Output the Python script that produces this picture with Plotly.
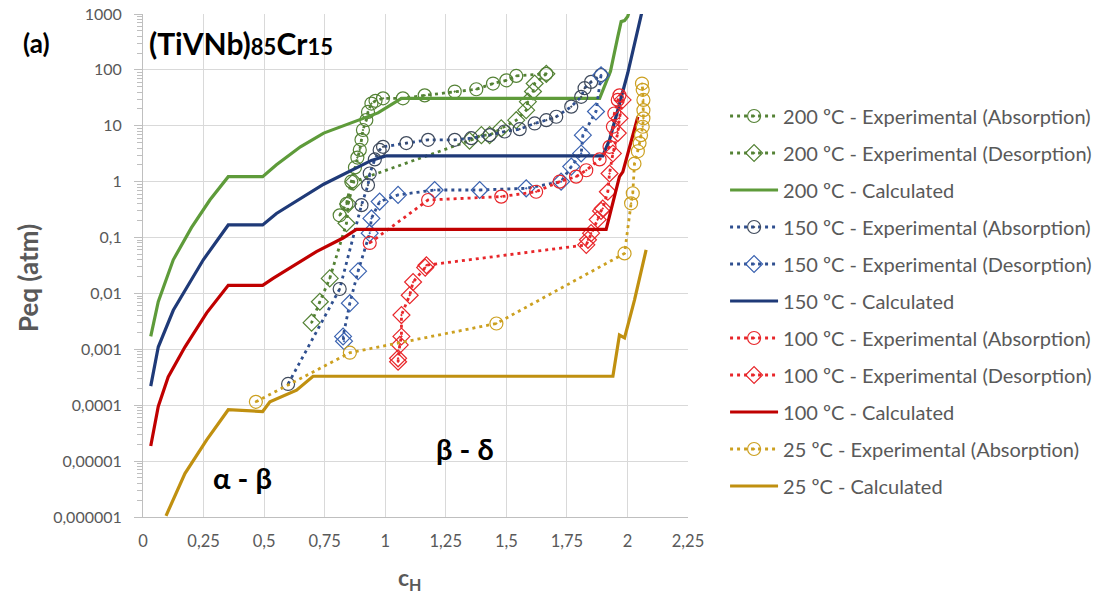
import plotly.graph_objects as go

# ---------------- data ----------------
# 200 ºC
g_abs_x = [0.812, 0.84, 0.86, 0.875, 0.885, 0.895, 0.902, 0.908, 0.922, 0.929, 0.943, 0.96, 0.991,
           1.073, 1.163, 1.287, 1.376, 1.445, 1.50, 1.541, 1.665]
g_abs_y = [0.25, 0.4, 1.0, 1.8, 2.7, 3.7, 5.6, 8.4, 12.7, 17.7, 25, 28, 31,
           31, 35, 41, 45, 57, 65, 78, 85]
g_des_x = [1.665, 1.617, 1.61, 1.589, 1.582, 1.541, 1.479, 1.431, 1.397, 1.348,
           0.87, 0.847, 0.84, 0.771, 0.73, 0.696]
g_des_y = [85, 57, 41, 27, 19, 12.6, 9, 6.8, 6.8, 5.4,
           1.0, 0.4, 0.18, 0.0186, 0.0071, 0.003]
g_calc_x = [0.032, 0.063, 0.125, 0.2, 0.276, 0.352, 0.494, 0.551, 0.65, 0.746, 0.97, 1.067,
            1.885, 1.93, 1.96, 1.974, 1.988, 2.001, 2.01]
g_calc_y = [0.0017, 0.0071, 0.04, 0.15, 0.47, 1.23, 1.23, 2.0, 4.2, 7.4, 17, 31,
            31, 94, 390, 730, 760, 900, 1200]

# 150 ºC
b_abs_x = [0.599, 0.812, 0.902, 0.929, 0.936, 0.957, 0.977, 0.991, 1.087, 1.177, 1.287, 1.355,
           1.431, 1.493, 1.555, 1.617, 1.665, 1.706, 1.768, 1.809, 1.823, 1.85, 1.891]
b_abs_y = [0.00024, 0.012, 0.38, 0.87, 1.4, 2.5, 3.7, 4.2, 4.9, 5.6, 5.6, 6.0,
           6.8, 7.9, 8.7, 11, 12.6, 14.5, 22, 33, 47, 61, 81]
b_des_x = [1.891, 1.87, 1.816, 1.809, 1.768, 1.726, 1.582, 1.39, 1.204, 1.053, 0.977, 0.943,
           0.936, 0.888, 0.854, 0.826, 0.83]
b_des_y = [80, 18, 6.8, 3.2, 1.86, 1.0, 0.76, 0.71, 0.71, 0.58, 0.44, 0.22,
           0.12, 0.025, 0.0067, 0.0017, 0.0014]
b_calc_x = [0.032, 0.063, 0.125, 0.221, 0.249, 0.352, 0.494, 0.551, 0.746, 0.943, 1.005,
            1.898, 1.926, 1.96, 2.001, 2.06]
b_calc_y = [0.00022, 0.0011, 0.005, 0.026, 0.04, 0.168, 0.168, 0.27, 0.9, 2.4, 2.9,
            2.9, 5.6, 19, 87, 1100]

# 100 ºC
r_abs_x = [0.936, 1.177, 1.479, 1.623, 1.72, 1.788, 1.83, 1.885, 1.926, 1.94, 1.946, 1.96, 1.967]
r_abs_y = [0.08, 0.47, 0.54, 0.66, 1.0, 1.23, 1.6, 2.5, 4.2, 9.6, 16.6, 29, 35]
r_des_x = [1.98, 1.967, 1.96, 1.94, 1.926, 1.919, 1.898, 1.891, 1.877, 1.85, 1.837, 1.83,
           1.17, 1.165, 1.115, 1.101, 1.067, 1.067, 1.06, 1.053, 1.053]
r_des_y = [29, 13.6, 7.4, 3.2, 1.4, 0.66, 0.33, 0.30, 0.21, 0.12, 0.091, 0.074,
           0.032, 0.029, 0.016, 0.0093, 0.0041, 0.0017, 0.0012, 0.00069, 0.0006]
r_calc_x = [0.032, 0.063, 0.104, 0.173, 0.263, 0.352, 0.494, 0.537, 0.716, 0.826, 0.881,
            1.912, 1.967, 1.981, 2.043]
r_calc_y = [1.86e-5, 9.5e-5, 3.2e-4, 1.1e-3, 4.5e-3, 0.014, 0.014, 0.0186, 0.056, 0.098, 0.14,
            0.14, 1.23, 1.5, 14.5]

# 25 ºC
y_abs_x = [0.466, 0.854, 1.459, 1.988, 2.015, 2.022, 2.029, 2.043, 2.05, 2.056, 2.063, 2.066,
           2.066, 2.066, 2.063, 2.06]
y_abs_y = [0.000115, 0.00087, 0.0029, 0.052, 0.41, 0.62, 2.1, 3.5, 4.9, 6.8, 9.6, 13.6,
           19, 29, 44, 57]
y_calc_x = [0.095, 0.173, 0.263, 0.352, 0.494, 0.524, 0.634, 0.702, 1.94, 1.967, 1.988, 2.029, 2.077]
y_calc_y = [1.05e-6, 6e-6, 2.4e-5, 8.3e-5, 7.7e-5, 1.15e-4, 1.86e-4, 3.3e-4, 3.3e-4,
            1.8e-3, 1.6e-3, 7.6e-3, 0.06]

x_ticks = [0, 0.25, 0.5, 0.75, 1, 1.25, 1.5, 1.75, 2, 2.25]
x_ticktext = ["0", "0,25", "0,5", "0,75", "1", "1,25", "1,5", "1,75", "2", "2,25"]
y_ticks = [1e-6, 1e-5, 1e-4, 1e-3, 1e-2, 1e-1, 1, 10, 100, 1000]
y_ticktext = ["0,000001", "0,00001", "0,0001", "0,001", "0,01", "0,1", "1", "10", "100", "1000"]
y_minor = [m * d for d in y_ticks[:-1] for m in range(2, 10)]

# ---------------- styles ----------------
GREEN_E, GREEN_C = "#548235", "#5E9B3A"
BLUE_E, BLUE_C, BLUE_CIRC = "#2F4F8F", "#1F3A78", "#3F4A5C"
RED_E, RED_C = "#E8262A", "#C00000"
YEL_E, YEL_C = "#CCA020", "#C09010"

FONT = "Lato, 'Open Sans', sans-serif"
TXT = "#595959"

fig = go.Figure()


def exp_trace(x, y, name, lcolor, mcolor, symbol):
    return go.Scatter(
        x=x, y=y, name=name, mode="lines+markers", legendgroup=name,
        line=dict(color=lcolor, width=2.8, dash="3px,4px"),
        marker=dict(symbol=symbol, size=13, color=mcolor,
                    line=dict(color=mcolor, width=1.2)),
    )


def calc_trace(x, y, name, color):
    return go.Scatter(
        x=x, y=y, name=name, mode="lines", legendgroup=name,
        line=dict(color=color, width=3.2),
    )


fig.add_trace(exp_trace(g_abs_x, g_abs_y, "200 ºC - Experimental (Absorption)", GREEN_E, GREEN_E, "circle-open-dot"))
fig.add_trace(exp_trace(g_des_x, g_des_y, "200 ºC - Experimental (Desorption)", GREEN_E, GREEN_E, "diamond-open-dot"))
fig.add_trace(calc_trace(g_calc_x, g_calc_y, "200 ºC - Calculated", GREEN_C))
fig.add_trace(exp_trace(b_abs_x, b_abs_y, "150 ºC - Experimental (Absorption)", BLUE_E, BLUE_CIRC, "circle-open-dot"))
fig.add_trace(exp_trace(b_des_x, b_des_y, "150 ºC - Experimental (Desorption)", BLUE_E, "#3A62B0", "diamond-open-dot"))
fig.add_trace(calc_trace(b_calc_x, b_calc_y, "150 ºC - Calculated", BLUE_C))
fig.add_trace(exp_trace(r_abs_x, r_abs_y, "100 ºC - Experimental (Absorption)", RED_E, RED_E, "circle-open-dot"))
fig.add_trace(exp_trace(r_des_x, r_des_y, "100 ºC - Experimental (Desorption)", RED_E, RED_E, "diamond-open-dot"))
fig.add_trace(calc_trace(r_calc_x, r_calc_y, "100 ºC - Calculated", RED_C))
fig.add_trace(exp_trace(y_abs_x, y_abs_y, "25 ºC - Experimental (Absorption)", YEL_E, YEL_E, "circle-open-dot"))
fig.add_trace(calc_trace(y_calc_x, y_calc_y, "25 ºC - Calculated", YEL_C))

# plot area at x 143..688, y 14..517 of the 1106x595 page
fig.update_layout(
    width=1106, height=595,
    margin=dict(l=143, r=418, t=14, b=78, autoexpand=False),
    paper_bgcolor="white", plot_bgcolor="white",
    font=dict(family=FONT, color=TXT, size=16),
    showlegend=True,
    legend=dict(x=1.068, y=0.836, xanchor="left", yanchor="top",
                font=dict(size=20, color=TXT, family=FONT),
                tracegroupgap=8, itemwidth=48, bgcolor="rgba(0,0,0,0)"),
    xaxis=dict(range=[0, 2.25], tickvals=x_ticks, ticktext=x_ticktext,
               showgrid=True, gridcolor="#D9D9D9", gridwidth=1,
               showline=True, linecolor="#BFBFBF", linewidth=1,
               zeroline=False, ticks="", tickfont=dict(size=16.5, color=TXT),
               ticklabelstandoff=9, ticklabeloverflow="allow", automargin=False),
    yaxis=dict(type="log", range=[-6, 3], tickvals=y_ticks, ticktext=y_ticktext,
               showgrid=True, gridcolor="#D9D9D9", gridwidth=1,
               showline=True, linecolor="#BFBFBF", linewidth=1,
               zeroline=False, ticks="outside", ticklen=8, tickcolor="#BFBFBF",
               tickfont=dict(size=16, color=TXT), ticklabelstandoff=9,
               ticklabeloverflow="allow", automargin=False,
               minor=dict(tickmode="array", tickvals=y_minor, ticks="outside", ticklen=5,
                          tickcolor="#BFBFBF", showgrid=False)),
)

ann_font = dict(family=FONT, size=30, color="black")
fig.add_annotation(text="<b>(a)</b>", xref="paper", yref="paper", x=-0.196, y=0.942,
                   xanchor="center", yanchor="middle", showarrow=False,
                   font=dict(family=FONT, size=26, color="black"))
fig.add_annotation(text="<b>(TiVNb)<span style='font-size:22px'>85</span>Cr<span style='font-size:22px'>15</span></b>",
                   xref="paper", yref="paper", x=0.008, y=0.942, xanchor="left", yanchor="middle",
                   showarrow=False, font=ann_font)
fig.add_annotation(text="<b>α - β</b>", xref="paper", yref="paper", x=0.183, y=0.078,
                   xanchor="center", yanchor="middle", showarrow=False,
                   font=dict(family=FONT, size=29, color="black"))
fig.add_annotation(text="<b>β - δ</b>", xref="paper", yref="paper", x=0.591, y=0.137,
                   xanchor="center", yanchor="middle", showarrow=False,
                   font=dict(family=FONT, size=29, color="black"))
# axis titles
fig.add_annotation(text="<b>Peq (atm)</b>", xref="paper", yref="paper", x=-0.211, y=0.475,
                   xanchor="center", yanchor="middle", textangle=-90, showarrow=False,
                   font=dict(family=FONT, size=26, color=TXT))
fig.add_annotation(text="<b>c<sub>H</sub></b>", xref="paper", yref="paper", x=0.49, y=-0.122,
                   xanchor="center", yanchor="middle", showarrow=False,
                   font=dict(family=FONT, size=23, color=TXT))

# remove the default 8 px page margin so the figure fills the window exactly
fig.write_html("out.html", config={"displayModeBar": False},
               post_script="document.body.style.margin='0px';document.body.style.overflow='hidden';")
